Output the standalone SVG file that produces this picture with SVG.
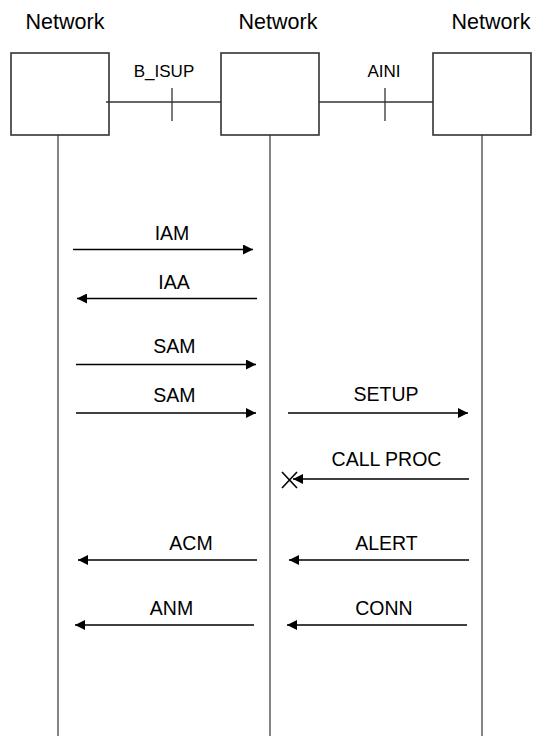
<svg xmlns="http://www.w3.org/2000/svg" width="533" height="736" viewBox="0 0 533 736">
<defs>
<style>
text{font-family:"Liberation Sans",Arial,sans-serif;fill:#000;text-anchor:middle}
.title{font-size:21.5px}
.if{font-size:17px}
.msg{font-size:19.5px}
.box{fill:#fff;stroke:#333;stroke-width:1.6}
.life{stroke:#666;stroke-width:1.6;fill:none}
.link{stroke:#333;stroke-width:1.3;fill:none}
.arr{stroke:#000;stroke-width:1.6;fill:none;marker-end:url(#ah)}
.x{stroke:#000;stroke-width:1.6;fill:none}
</style>
<marker id="ah" viewBox="0 0 10 10" refX="10" refY="5" markerWidth="11" markerHeight="10" markerUnits="userSpaceOnUse" orient="auto">
<path d="M0,0 L10,5 L0,10 z" fill="#000"/>
</marker>
</defs>
<g id="lifelines">
<line class="life" x1="58" y1="135" x2="58" y2="736"/>
<line class="life" x1="270" y1="135" x2="270" y2="736"/>
<line class="life" x1="482" y1="135" x2="482" y2="736"/>
</g>
<g id="node-left">
<text class="title" x="65" y="29">Network</text>
<rect class="box" x="11" y="53" width="98" height="82"/>
</g>
<g id="node-middle">
<text class="title" x="278" y="29">Network</text>
<rect class="box" x="221" y="53" width="98" height="82"/>
</g>
<g id="node-right">
<text class="title" x="491" y="29">Network</text>
<rect class="box" x="433" y="53" width="98" height="82"/>
</g>
<g id="connectors">
<line class="link" x1="106" y1="102" x2="221" y2="102"/>
<line class="link" x1="172" y1="88" x2="172" y2="121"/>
<text class="if" x="164" y="76.5">B_ISUP</text>
<line class="link" x1="319" y1="102" x2="433" y2="102"/>
<line class="link" x1="385" y1="88" x2="385" y2="121"/>
<text class="if" x="384" y="76.5">AINI</text>

<text class="msg" x="172" y="239.5">IAM</text>
<line class="arr" x1="73" y1="249.5" x2="253" y2="249.5"/>
<text class="msg" x="174" y="288.5">IAA</text>
<line class="arr" x1="257" y1="298.5" x2="77" y2="298.5"/>
<text class="msg" x="174.5" y="353">SAM</text>
<line class="arr" x1="76" y1="364.5" x2="256" y2="364.5"/>
<text class="msg" x="174.5" y="402">SAM</text>
<line class="arr" x1="76" y1="413" x2="256" y2="413"/>
<text class="msg" x="386" y="401">SETUP</text>
<line class="arr" x1="288" y1="413" x2="468" y2="413"/>
<text class="msg" x="386.5" y="466">CALL PROC</text>
<line class="arr" x1="469" y1="479" x2="293" y2="479"/>
<path class="x" d="M282,472 L297,488 M297,472 L282,488"/>
<text class="msg" x="191" y="549.5">ACM</text>
<line class="arr" x1="257" y1="560" x2="78" y2="560"/>
<text class="msg" x="386.5" y="549.5">ALERT</text>
<line class="arr" x1="469" y1="560" x2="289" y2="560"/>
<text class="msg" x="171.5" y="614.5">ANM</text>
<line class="arr" x1="254" y1="625" x2="75" y2="625"/>
<text class="msg" x="384" y="614.5">CONN</text>
<line class="arr" x1="467" y1="625" x2="287" y2="625"/>
</g>
</svg>
